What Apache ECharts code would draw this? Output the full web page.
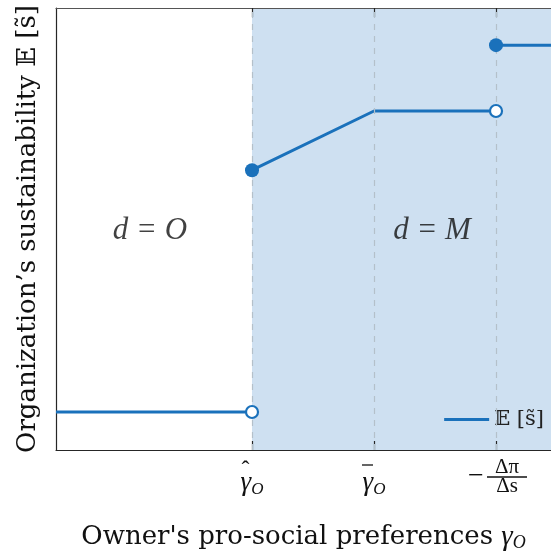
<!DOCTYPE html>
<html><head><meta charset="utf-8">
<script src="https://cdn.jsdelivr.net/npm/echarts@6/dist/echarts.min.js"></script>
<style>html,body{margin:0;padding:0;background:#fff}#c{width:551px;height:552px}</style>
</head><body><div id="c"></div>
<script>
// x positions (abstract units) and y values
const xMin = 0, xMax = 495;
const xTickValues = [196, 318, 440];
const xTickLabels = [
  '{hat|ˆ}{hs|}\n{g|γ}{s|O}',
  '{bar2|}{hs|}\n{g|γ}{s|O}',
  '{sp|}{n|Δπ}\n{m|−}{bar|}\n{sp|}{n|Δs}'
];
const lowSegment = [[0, 0.86], [196, 0.86]];
const midSegment = [[196, 6.33], [318, 7.67], [440, 7.67]];
const highSegment = [[440, 9.16], [495, 9.16]];
const openPoints = [[196, 0.86], [440, 7.67]];
const filledPoints = [[196, 6.33], [440, 9.16]];
const regionLabels = [[94, 4.95, 'd = O'], [376, 4.95, 'd = M']];
const shadeFrom = 196;
const seriesName = '𝔼 [s̃]';

const blue = '#1a71bb';
const serif = '"DejaVu Serif", "Liberation Serif", serif';
const serif2 = '"Liberation Serif", "DejaVu Serif", serif';

const chart = echarts.init(document.getElementById('c'), null, {renderer: 'canvas'});
const lineSeries = (data, extra) => Object.assign({
  type: 'line', name: seriesName, data: data, symbol: 'none',
  lineStyle: {color: blue, width: 3}, itemStyle: {color: blue}, z: 3, silent: true
}, extra || {});

chart.setOption({
  animation: false,
  grid: {left: 56, right: 0, top: 8, bottom: 102, containLabel: false, outerBoundsMode: 'none'},
  legend: {
    data: [{name: seriesName, icon: 'rect'}], right: 2, top: 404, itemWidth: 45, itemHeight: 3, itemGap: 4,
    textStyle: {fontFamily: serif, fontSize: 21, color: '#222'},
    itemStyle: {opacity: 1, color: blue}
  },
  xAxis: [{
    type: 'value', min: xMin, max: xMax,
    splitLine: {show: false},
    axisLine: {show: true, onZero: false, lineStyle: {color: '#262626', width: 1.2}},
    axisTick: {show: true, inside: true, length: 9, customValues: xTickValues, lineStyle: {color: '#262626', width: 1.2}},
    axisLabel: {
      show: true, customValues: xTickValues, margin: 10,
      formatter: v => xTickLabels[xTickValues.indexOf(v)] || '',
      rich: {
        hat: {fontFamily: serif2, fontSize: 24, color: '#111', lineHeight: 10, width: 14, align: 'center', padding: [12, 0, 0, 0]},
        bar2: {width: 11, height: 1.3, backgroundColor: '#111', lineHeight: 10},
        hs: {width: 13, lineHeight: 10},
        g: {fontFamily: serif2, fontStyle: 'italic', fontSize: 27, color: '#111', lineHeight: 26},
        s: {fontFamily: serif2, fontStyle: 'italic', fontSize: 17, color: '#111', padding: [13, 0, 0, 0], lineHeight: 26},
        n: {fontFamily: serif2, fontSize: 21, color: '#111', width: 40, align: 'center', lineHeight: 15},
        sp: {width: 22, lineHeight: 15},
        m: {fontFamily: serif2, fontSize: 28, color: '#111', width: 22, align: 'center', lineHeight: 4},
        bar: {width: 40, height: 1.3, backgroundColor: '#111', lineHeight: 4}
      }
    },
    name: "Owner's pro-social preferences {g|γ}{s|O}",
    nameLocation: 'middle', nameGap: 72,
    nameTextStyle: {
      fontFamily: serif, fontSize: 26, color: '#111',
      rich: {
        g: {fontFamily: serif2, fontStyle: 'italic', fontSize: 29, color: '#111'},
        s: {fontFamily: serif2, fontStyle: 'italic', fontSize: 18, color: '#111', padding: [12, 0, 0, 0]}
      }
    }
  }, {
    type: 'value', position: 'top', min: xMin, max: xMax,
    splitLine: {show: false},
    axisLine: {show: true, onZero: false, lineStyle: {color: '#555', width: 1.2}},
    axisTick: {show: true, inside: true, length: 9, customValues: xTickValues, lineStyle: {color: '#262626', width: 1.2}},
    axisLabel: {show: false}
  }],
  yAxis: {
    type: 'value', min: 0, max: 10,
    splitLine: {show: false}, axisTick: {show: false}, axisLabel: {show: false},
    axisLine: {show: true, onZero: false, lineStyle: {color: '#262626', width: 1.2}},
    name: "Organization’s sustainability 𝔼 [s̃]", nameLocation: 'middle', nameGap: 15,
    nameTextStyle: {fontFamily: serif, fontSize: 26, color: '#111'}
  },
  series: [
    lineSeries(lowSegment, {
      markArea: {
        silent: true, itemStyle: {color: '#cee0f1'}, z: 0,
        data: [[{xAxis: shadeFrom}, {xAxis: xMax}]]
      },
      markLine: {
        silent: true, symbol: 'none', label: {show: false},
        lineStyle: {color: '#b4c0ca', type: [6, 6], width: 1.2},
        data: xTickValues.map(v => ({xAxis: v}))
      }
    }),
    lineSeries(midSegment),
    lineSeries(highSegment),
    {
      type: 'scatter', name: 'open', data: openPoints, symbol: 'circle', symbolSize: 12,
      itemStyle: {color: '#fff', borderColor: blue, borderWidth: 2.2, opacity: 1}, z: 5, silent: true
    },
    {
      type: 'scatter', name: 'filled', data: filledPoints, symbol: 'circle', symbolSize: 14,
      itemStyle: {color: blue, opacity: 1}, z: 5, silent: true
    },
    {
      type: 'scatter', name: 'regions', symbolSize: 0, silent: true, z: 4,
      data: regionLabels.map(r => ({value: [r[0], r[1]], label: {formatter: r[2]}})),
      label: {show: true, position: 'inside', fontFamily: serif2, fontStyle: 'italic', fontSize: 31, color: '#111'}
    }
  ]
});
</script></body></html>
